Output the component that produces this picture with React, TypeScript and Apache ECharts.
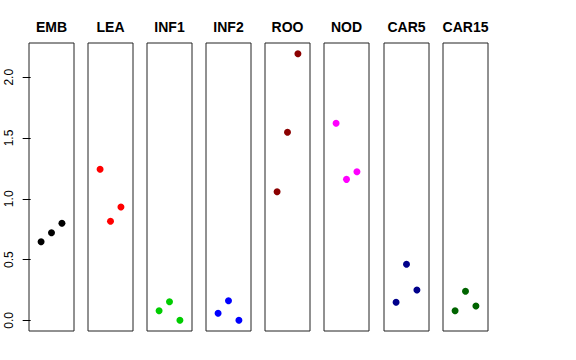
import React, { useEffect, useRef } from "react";
import * as echarts from "echarts";

const categories = ["EMB", "LEA", "INF1", "INF2", "ROO", "NOD", "CAR5", "CAR15"];
const colors = ["#000000", "#FF0000", "#00CD00", "#0000FF", "#8B0000", "#FF00FF", "#00008B", "#006400"];
const xPositions = [1, 2, 3];
const values: number[][] = [
  [0.647, 0.721, 0.798],
  [1.243, 0.815, 0.932],
  [0.079, 0.153, 0.0],
  [0.058, 0.161, 0.0],
  [1.058, 1.547, 2.194],
  [1.621, 1.16, 1.223],
  [0.148, 0.461, 0.249],
  [0.079, 0.239, 0.118],
];
const yTicks = [0, 0.5, 1, 1.5, 2];
const yTickLabels = ["0.0", "0.5", "1.0", "1.5", "2.0"];

const panelLefts = [29, 88, 147, 206, 265, 324, 384, 443];
const panelWidth = 45;
const panelTop = 43;
const panelHeight = 288;

export default function App() {
  const ref = useRef<HTMLDivElement>(null);
  useEffect(() => {
    if (!ref.current) return;
    const chart = echarts.init(ref.current, null, { renderer: "svg" });
    const yMin = -0.088;
    const yMax = 2.282;
    const option: any = {
      animation: false,
      backgroundColor: "#ffffff",
      title: categories.map((c, i) => ({
        text: c,
        left: panelLefts[i] + panelWidth / 2,
        top: 20,
        textAlign: "center",
        padding: 0,
        textStyle: {
          fontSize: 14,
          fontWeight: "bold",
          color: "#000",
          fontFamily: "Liberation Sans, Arial, sans-serif",
        },
      })),
      grid: categories.map((_, i) => ({
        left: panelLefts[i],
        top: panelTop,
        width: panelWidth,
        height: panelHeight,
        show: true,
        borderColor: "#222",
        borderWidth: 1,
        backgroundColor: "transparent",
      })),
      xAxis: categories.map((_, i) => ({
        type: "value",
        gridIndex: i,
        min: -0.16,
        max: 4.16,
        show: false,
      })),
      yAxis: categories.map((_, i) => ({
        type: "value",
        gridIndex: i,
        min: yMin,
        max: yMax,
        show: i === 0,
        splitLine: { show: false },
        axisLine: { show: false },
        axisTick: {
          show: i === 0,
          length: 8,
          customValues: yTicks,
          lineStyle: { color: "#000", width: 1 },
        },
        axisLabel: {
          show: i === 0,
          customValues: yTicks,
          rotate: 90,
          margin: 14,
          fontSize: 12,
          color: "#000",
          fontFamily: "Liberation Sans, Arial, sans-serif",
          formatter: (v: number) => {
            const idx = yTicks.findIndex((t) => Math.abs(t - v) < 1e-9);
            return idx >= 0 ? yTickLabels[idx] : "";
          },
        },
      })),
      series: categories.map((c, i) => ({
        type: "scatter",
        name: c,
        xAxisIndex: i,
        yAxisIndex: i,
        symbol: "circle",
        symbolSize: 7,
        itemStyle: { color: colors[i], opacity: 1 },
        data: values[i].map((v, j) => [xPositions[j], v]),
        silent: true,
      })),
    };
    chart.setOption(option);
    return () => chart.dispose();
  }, []);
  return <div ref={ref} style={{ width: 576, height: 360, position: "absolute", left: 0, top: 0 }} />;
}
